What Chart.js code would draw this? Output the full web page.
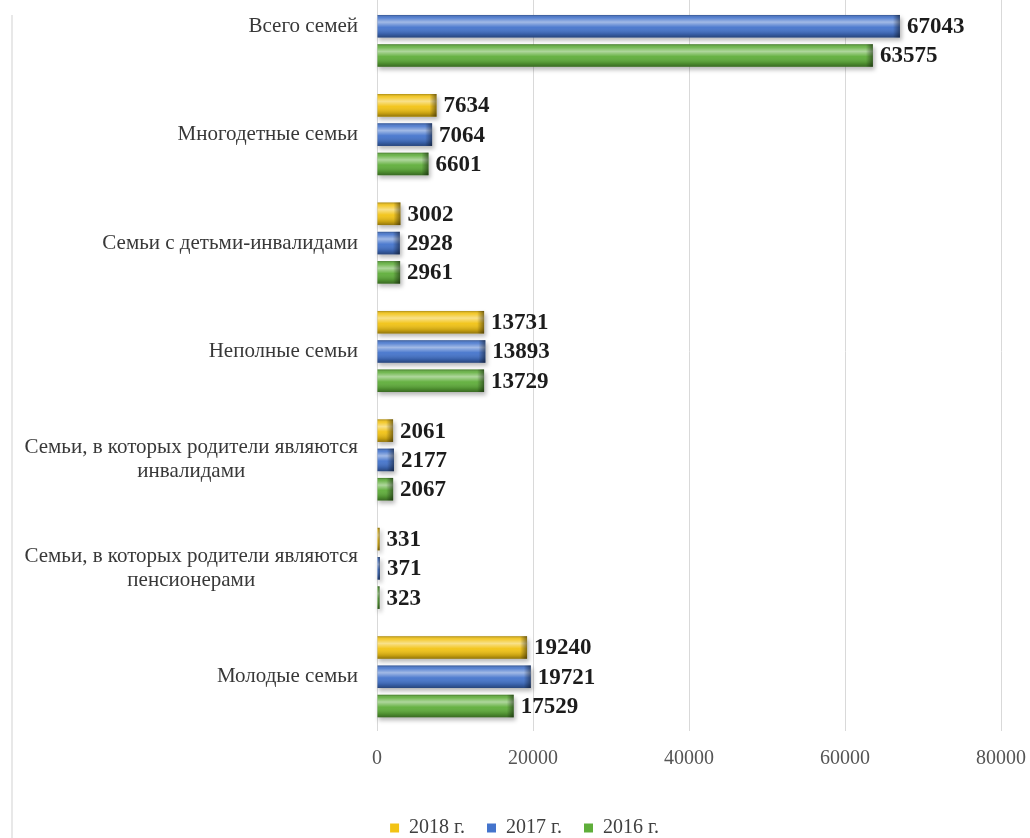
<!DOCTYPE html>
<html>
<head>
<meta charset="utf-8">
<script src="https://cdn.jsdelivr.net/npm/chart.js@4.4.1/dist/chart.umd.min.js"></script>
<style>
  body { margin: 0; background: #fff; }
  #wrap { position: relative; width: 1030px; height: 838px; overflow: hidden; background: #fff; }
  #canvas1 { position: absolute; left: 0; top: -28px; }
  #edge { position: absolute; left: 11px; top: 15px; width: 2px; height: 830px; background: #e8e8e8; }
</style>
</head>
<body>
<div id="wrap">
  <div id="edge"></div>
  <canvas id="canvas1" width="1030" height="876"></canvas>
</div>
<script>
var categories = [
  "Всего семей",
  "Многодетные семьи",
  "Семьи с детьми-инвалидами",
  "Неполные семьи",
  ["Семьи, в которых родители являются", "инвалидами"],
  ["Семьи, в которых родители являются", "пенсионерами"],
  "Молодые семьи"
];
var years = ["2018 г.", "2017 г.", "2016 г."];
var values2018 = [null, 7634, 3002, 13731, 2061, 331, 19240];
var values2017 = [67043, 7064, 2928, 13893, 2177, 371, 19721];
var values2016 = [63575, 6601, 2961, 13729, 2067, 323, 17529];
var xTicks = [0, 20000, 40000, 60000, 80000];

var colors = ["#f2c314", "#4474cc", "#5fae3a"];
var serif = "'Liberation Serif', 'DejaVu Serif', serif";

// shadow under the bars
var shadowPlugin = {
  id: 'shadow',
  beforeDatasetsDraw: function(chart) {
    var ctx = chart.ctx;
    ctx.save();
    ctx.filter = 'blur(2px)';
    ctx.fillStyle = 'rgba(0,0,0,0.28)';
    chart.data.datasets.forEach(function(ds, di) {
      chart.getDatasetMeta(di).data.forEach(function(el, i) {
        if (ds.data[i] == null) return;
        var h = el.height;
        ctx.fillRect(el.base + 1, el.y - h / 2 + 3, el.x - el.base + 1, h);
      });
    });
    ctx.restore();
  }
};

// bevel look + value labels
var bevelPlugin = {
  id: 'bevel',
  afterDatasetsDraw: function(chart) {
    var ctx = chart.ctx;
    ctx.save();
    chart.data.datasets.forEach(function(ds, di) {
      chart.getDatasetMeta(di).data.forEach(function(el, i) {
        if (ds.data[i] == null) return;
        var h = el.height, top = el.y - h / 2, w = el.x - el.base;
        var g = ctx.createLinearGradient(0, top, 0, top + h);
        g.addColorStop(0, 'rgba(0,0,0,0.30)');
        g.addColorStop(0.12, 'rgba(255,255,255,0.10)');
        g.addColorStop(0.32, 'rgba(255,255,255,0.50)');
        g.addColorStop(0.55, 'rgba(255,255,255,0.05)');
        g.addColorStop(0.85, 'rgba(0,0,0,0.18)');
        g.addColorStop(1, 'rgba(0,0,0,0.40)');
        ctx.fillStyle = g;
        ctx.fillRect(el.base, top, w, h);
        var cap = Math.min(7, w);
        var g2 = ctx.createLinearGradient(el.x - cap, 0, el.x, 0);
        g2.addColorStop(0, 'rgba(0,0,0,0)');
        g2.addColorStop(1, 'rgba(0,0,0,0.45)');
        ctx.fillStyle = g2;
        ctx.fillRect(el.x - cap, top, cap, h);

        ctx.fillStyle = '#1c1c1c';
        ctx.font = 'bold 23px ' + serif;
        ctx.textAlign = 'left';
        ctx.textBaseline = 'middle';
        ctx.fillText(ds.data[i], el.x + 7, el.y + 1);
      });
    });
    ctx.restore();
  }
};

// category labels: right aligned block, lines centred inside it
var catLabelPlugin = {
  id: 'catLabels',
  afterLayout: function(chart) {
    // legend sits a bit right of centre in the original
    chart.legend.left += 24;
    chart.legend.right += 24;
  },
  afterDraw: function(chart) {
    var ctx = chart.ctx, scale = chart.scales.y;
    var right = 358;
    ctx.save();
    ctx.font = '21px ' + serif;
    ctx.fillStyle = '#383838';
    ctx.textAlign = 'center';
    ctx.textBaseline = 'middle';
    categories.forEach(function(lab, i) {
      var lines = Array.isArray(lab) ? lab : [lab];
      var bw = 0;
      lines.forEach(function(l) { bw = Math.max(bw, ctx.measureText(l).width); });
      var y0 = scale.getPixelForTick(i) - (lines.length - 1) * 12;
      lines.forEach(function(l, k) {
        ctx.fillText(l, right - bw / 2, y0 + k * 24);
      });
    });
    ctx.restore();
  }
};

new Chart(document.getElementById('canvas1'), {
  type: 'bar',
  data: {
    labels: categories,
    datasets: [
      { label: years[0], data: values2018, backgroundColor: colors[0] },
      { label: years[1], data: values2017, backgroundColor: colors[1] },
      { label: years[2], data: values2016, backgroundColor: colors[2] }
    ]
  },
  options: {
    responsive: false,
    animation: false,
    indexAxis: 'y',
    categoryPercentage: 0.81,
    barPercentage: 0.77,
    layout: { padding: { left: 0, right: 29, top: 0, bottom: 0 } },
    scales: {
      x: {
        min: 0,
        max: 80000,
        afterBuildTicks: function(s) { s.ticks = xTicks.map(function(v) { return { value: v }; }); },
        afterFit: function(s) { s.height = 65; s.paddingLeft = 0; s.paddingRight = 0; },
        grid: { color: '#d9d9d9', drawTicks: false },
        border: { display: false },
        ticks: {
          color: '#555',
          padding: 16,
          font: { family: serif, size: 20 },
          callback: function(v) { return String(v); }
        }
      },
      y: {
        afterFit: function(s) { s.width = 377; },
        grid: { display: false },
        border: { display: false },
        ticks: { display: false }
      }
    },
    plugins: {
      legend: {
        position: 'bottom',
        labels: {
          boxWidth: 9,
          boxHeight: 9,
          padding: 22,
          color: '#404040',
          font: { family: serif, size: 20 }
        }
      },
      tooltip: { enabled: false }
    }
  },
  plugins: [shadowPlugin, bevelPlugin, catLabelPlugin]
});
</script>
</body>
</html>
